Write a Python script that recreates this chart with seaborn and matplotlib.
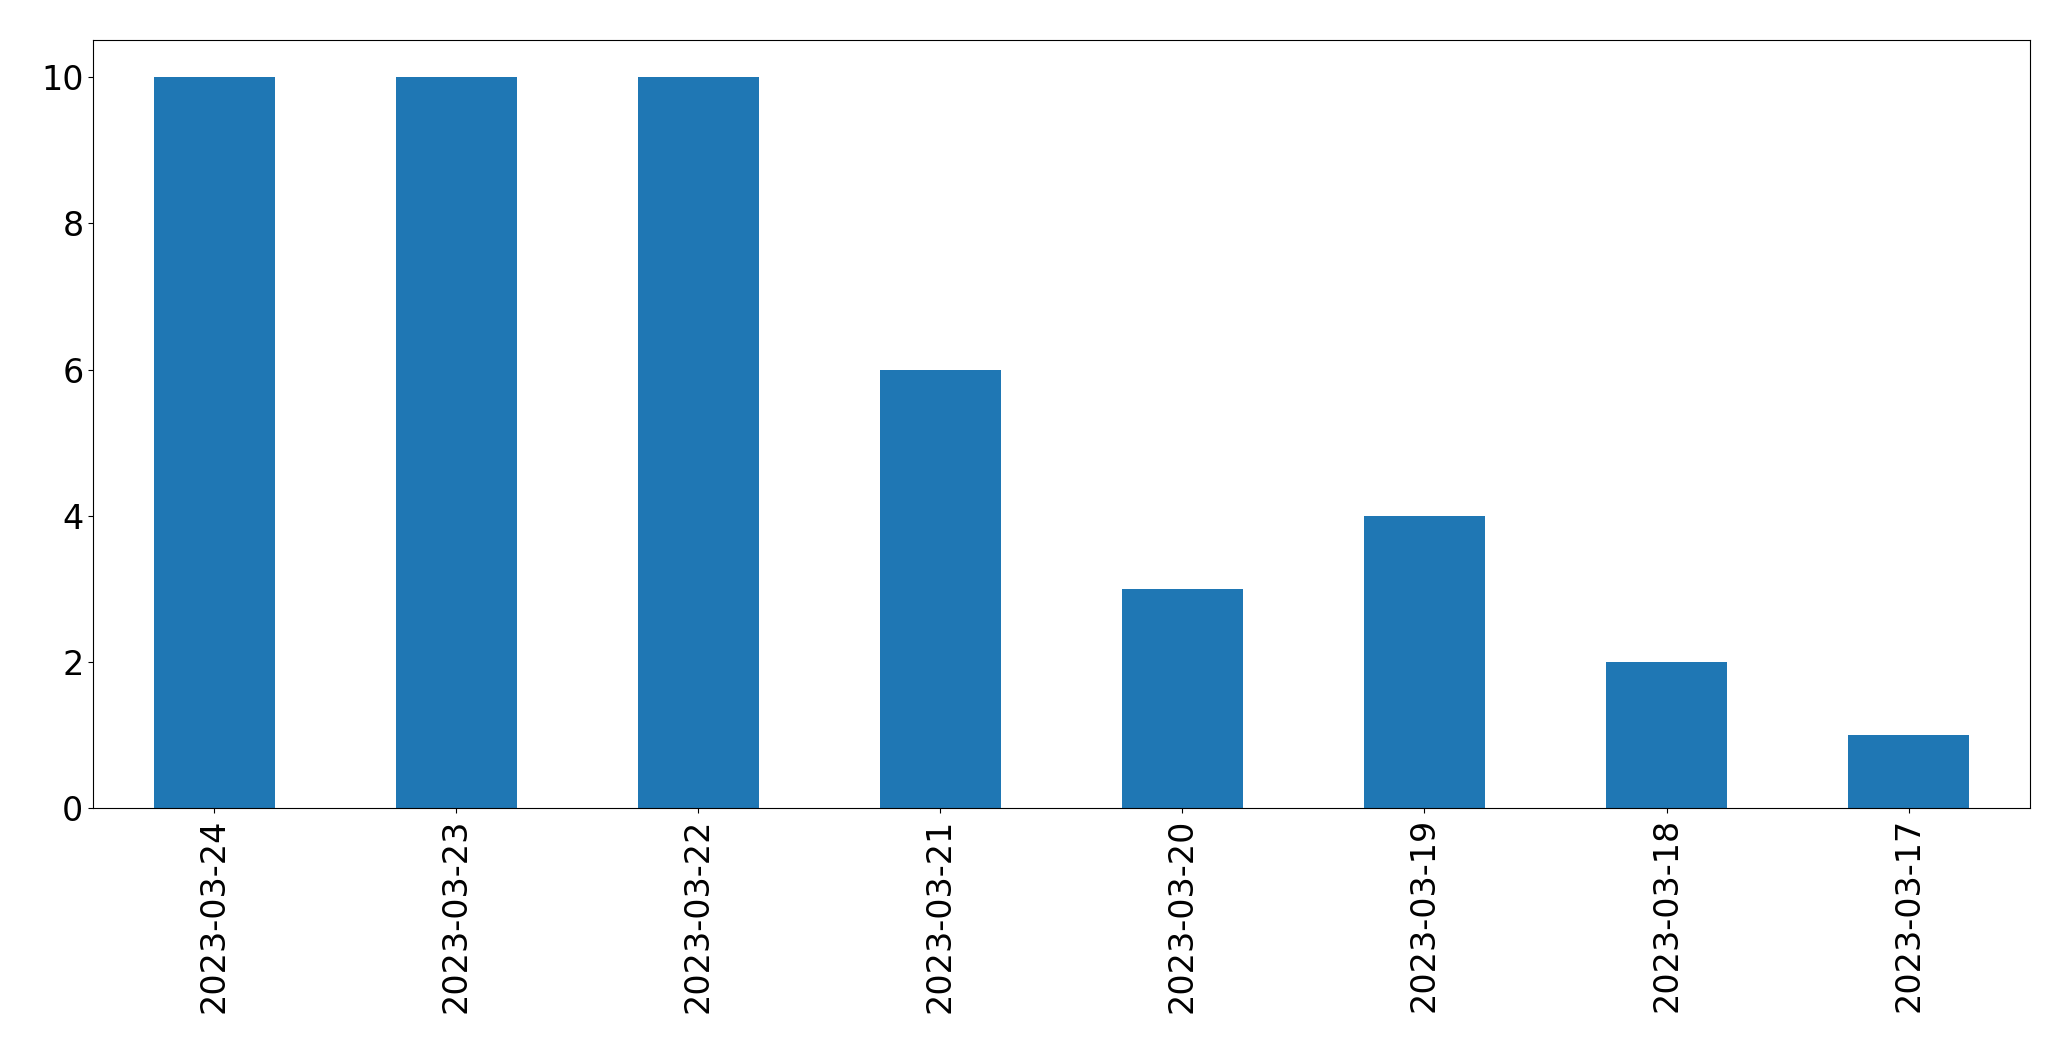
import pandas as pd
import seaborn as sns
import matplotlib.pyplot as plt

# data
dates = ['2023-03-24', '2023-03-23', '2023-03-22', '2023-03-21',
         '2023-03-20', '2023-03-19', '2023-03-18', '2023-03-17']
counts = [10, 10, 10, 6, 3, 4, 2, 1]

df = pd.DataFrame({'date': dates, 'count': counts})

fig, ax = plt.subplots(figsize=(20.71, 10.61), dpi=100)
sns.barplot(data=df, x='date', y='count', color='#1f77b4', saturation=1,
            width=0.5, linewidth=0, ax=ax)

ax.set_xlabel('')
ax.set_ylabel('')
ax.tick_params(axis='both', labelsize=24)
plt.setp(ax.get_xticklabels(), rotation=90)
ax.set_xlim(-0.5, len(dates) - 0.5)
ax.set_ylim(0, 10.5)

fig.subplots_adjust(left=0.045, right=0.98, top=0.962, bottom=0.238)
fig.savefig('out.png', dpi=100)
